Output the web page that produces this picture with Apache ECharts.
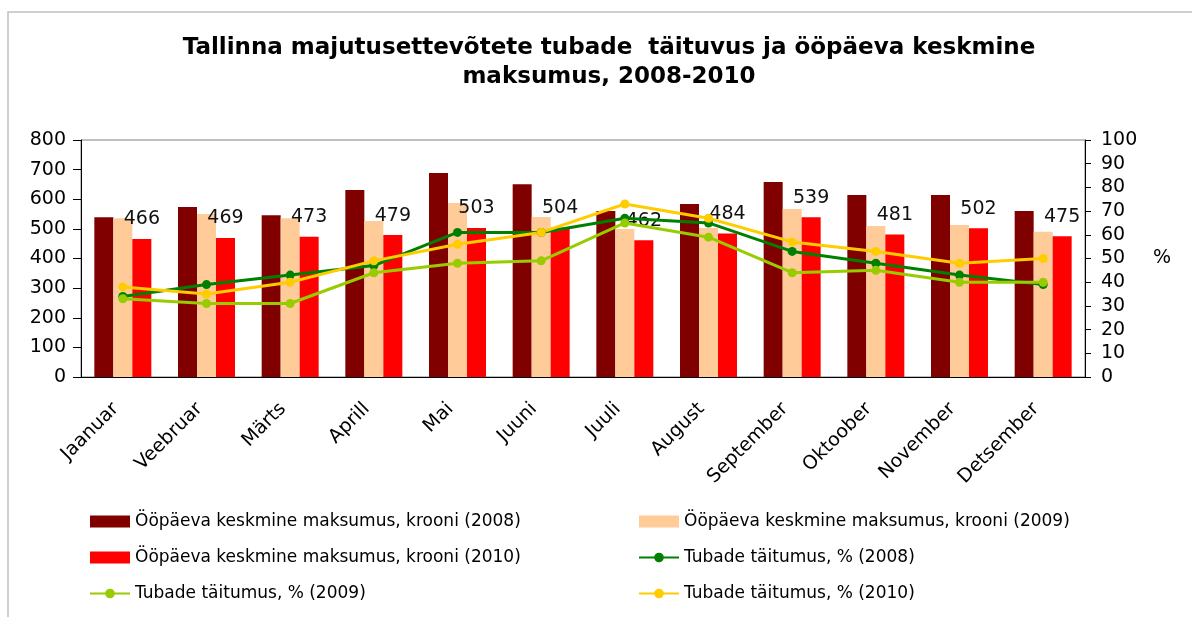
<!DOCTYPE html>
<html>
<head>
<meta charset="utf-8">
<script src="https://cdn.jsdelivr.net/npm/echarts@6/dist/echarts.min.js"></script>
<style>
  html, body { margin: 0; padding: 0; background: #fff; overflow: hidden; }
  #chart { width: 1192px; height: 617px; }
</style>
</head>
<body>
<div id="chart"></div>
<script>
const months = ['Jaanuar', 'Veebruar', 'Märts', 'Aprill', 'Mai', 'Juuni', 'Juuli', 'August', 'September', 'Oktoober', 'November', 'Detsember'];

// ööpäeva keskmine maksumus, krooni
const price2008 = [539, 574, 546, 631, 689, 651, 560, 584, 658, 614, 614, 560];
const price2009 = [536, 550, 536, 527, 587, 540, 500, 503, 567, 510, 513, 490];
const price2010 = [466, 469, 473, 479, 503, 504, 462, 484, 539, 481, 502, 475];

// tubade täitumus, %
const occ2008 = [34, 39, 43, 47, 61, 61, 67, 65, 53, 48, 43, 39];
const occ2009 = [33, 31, 31, 44, 48, 49, 65, 59, 44, 45, 40, 40];
const occ2010 = [38, 35, 40, 49, 56, 61, 73, 67, 57, 53, 48, 50];

const names = {
  p08: 'Ööpäeva keskmine maksumus, krooni (2008)',
  p09: 'Ööpäeva keskmine maksumus, krooni (2009)',
  p10: 'Ööpäeva keskmine maksumus, krooni (2010)',
  o08: 'Tubade täitumus, % (2008)',
  o09: 'Tubade täitumus, % (2009)',
  o10: 'Tubade täitumus, % (2010)',
};

const font = 'DejaVu Sans';
const chart = echarts.init(document.getElementById('chart'));

const bar = (name, data, color, withLabel) => ({
  type: 'bar', name, data, yAxisIndex: 0,
  barWidth: 19, barGap: '0%',
  itemStyle: { color },
  label: withLabel ? {
    show: true, position: 'top', distance: 10,
    color: '#111', fontFamily: font, fontSize: 19,
  } : { show: false },
});

const line = (name, data, color) => ({
  type: 'line', name, data, yAxisIndex: 1,
  symbol: 'circle', symbolSize: 9,
  lineStyle: { color, width: 3 },
  itemStyle: { color },
  z: 5,
});

const legendBase = {
  orient: 'vertical', itemWidth: 40, itemHeight: 12, itemGap: 19,
  top: 513, padding: 0, height: 100,
  textStyle: { fontFamily: font, fontSize: 17, color: '#000' },
};
const rectIcon = (n) => ({ name: n, icon: 'rect' });

chart.setOption({
  animation: false,
  backgroundColor: '#fff',
  graphic: [{
    type: 'rect', shape: { x: 8, y: 12, width: 1200, height: 620 },
    style: { fill: 'none', stroke: '#c0c0c0', lineWidth: 1.5 }, z: -1,
  }],
  title: {
    text: 'Tallinna majutusettevõtete tubade  täituvus ja ööpäeva keskmine\nmaksumus, 2008-2010',
    left: 604, top: 29, textAlign: 'center',
    textStyle: { fontFamily: 'DejaVu Sans', fontWeight: 'bold', fontSize: 23, lineHeight: 29, color: '#000' },
  },
  legend: [
    { ...legendBase, left: 89, data: [rectIcon(names.p08), rectIcon(names.p10), names.o09] },
    { ...legendBase, left: 638, data: [rectIcon(names.p09), names.o08, names.o10] },
  ],
  grid: { left: 81, right: 107, top: 140, bottom: 240, show: true, borderColor: '#808080', borderWidth: 1 },
  xAxis: {
    type: 'category', data: months,
    axisLine: { lineStyle: { color: '#000' } },
    axisTick: { length: 6, lineStyle: { color: '#000' } },
    axisLabel: {
      rotate: 45, interval: 0, fontFamily: font, fontSize: 19, color: '#000',
      margin: 22, padding: [0, 10, 0, 0],
    },
  },
  yAxis: [
    {
      type: 'value', min: 0, max: 800, interval: 100,
      axisLine: { show: true, lineStyle: { color: '#000' } },
      axisTick: { show: true, length: 8, lineStyle: { color: '#000' } },
      axisLabel: { fontFamily: font, fontSize: 19, color: '#000', margin: 15 },
      splitLine: { show: false },
    },
    {
      type: 'value', min: 0, max: 100, interval: 10, position: 'right',
      name: '%', nameLocation: 'middle', nameRotate: 0, nameGap: 68,
      nameTextStyle: { fontFamily: font, fontSize: 19, color: '#000' },
      axisLine: { show: true, lineStyle: { color: '#000' } },
      axisTick: { show: true, length: 6, lineStyle: { color: '#000' } },
      axisLabel: { fontFamily: font, fontSize: 19, color: '#000', margin: 16 },
      splitLine: { show: false },
    },
  ],
  series: [
    bar(names.p08, price2008, '#800000', false),
    bar(names.p09, price2009, '#ffcc99', false),
    bar(names.p10, price2010, '#ff0000', true),
    line(names.o08, occ2008, '#008000'),
    line(names.o09, occ2009, '#99cc00'),
    line(names.o10, occ2010, '#ffcc00'),
  ],
});
</script>
</body>
</html>
